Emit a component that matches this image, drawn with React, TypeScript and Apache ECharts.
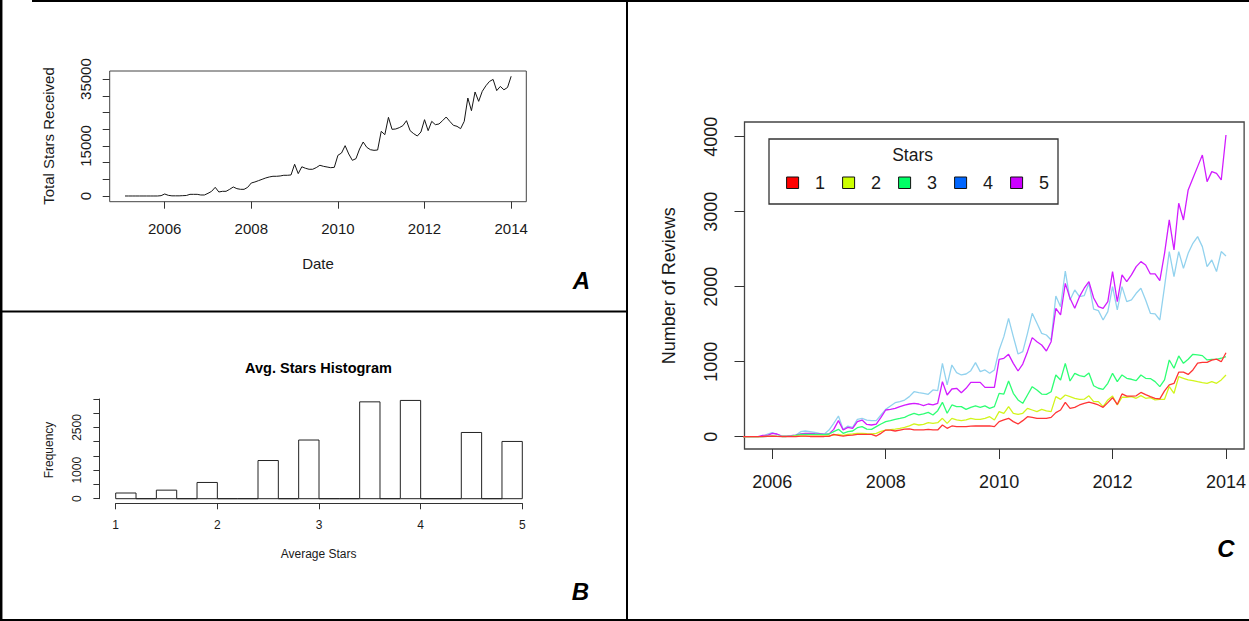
import React, { useEffect, useRef } from "react";
import * as echarts from "echarts";

const FONT = "'Liberation Sans', Arial, Helvetica, sans-serif";
const INK = "#1a1a1a";

// ---------- Panel A: total stars received (monthly) ----------
const TOTAL_START = [2005, 2]; // year, month of first value
const TOTAL_STARS = [
  0, 0, 0, 0, 0, 0, 0, 0, 0, 0, 100,
  600, 200, 50, 50, 50, 100, 150, 500, 500, 500, 300, 300,
  800, 1400, 2600, 1200, 1400, 1400, 2000, 2700, 2200, 2000, 2000, 2600,
  3900, 4200, 4600, 5000, 5400, 5700, 5900, 5900, 6000, 6200, 6200, 6300,
  9500, 6700, 8750, 8300, 8000, 8000, 8500, 9200, 8880, 8680, 8480, 8580,
  12180, 12870, 15070, 12580, 10680, 11180, 14070, 16170, 14570, 13870, 13670, 13770,
  19360, 18360, 23550, 19960, 20060, 20460, 21060, 22550, 19560, 18660, 17960, 19160,
  22850, 19560, 22350, 21360, 21560, 22550, 23650, 22350, 21160, 20860, 20160, 22350,
  29340, 25550, 31140, 28340, 31340, 33000, 34300, 34900, 31550, 32800, 31800, 32500,
  35850,
];
const A_YEAR_TICKS = [2006, 2008, 2010, 2012, 2014];
const A_Y_TICKS = [0, 5000, 10000, 15000, 20000, 25000, 30000, 35000];
const A_Y_LABELS = [0, 15000, 35000];

// ---------- Panel B: histogram of average stars ----------
const HIST_BREAKS = [1, 1.2, 1.4, 1.6, 1.8, 2, 2.2, 2.4, 2.6, 2.8, 3, 3.2, 3.4, 3.6, 3.8, 4, 4.2, 4.4, 4.6, 4.8, 5];
const HIST_COUNTS = [200, 0, 300, 0, 570, 0, 0, 1340, 0, 2060, 0, 0, 3400, 0, 3450, 0, 0, 2325, 0, 2010];
const B_Y_LABELS = [0, 1000, 2500];

// ---------- Panel C: number of reviews per star level (monthly) ----------
const REVIEW_START = [2005, 6];
const STARS_1 = [
  0, 0, 0, 0, 0, 0, 5,
  9, 5, 2, 2, 2, 2, 9, 9, 3, 3, 3, 3,
  5, 31, 18, 9, 18, 22, 31, 31, 31, 31, 9, 45,
  89, 89, 76, 89, 102, 105, 90, 90, 90, 99, 90, 90,
  156, 112, 143, 134, 134, 134, 140, 143, 143, 143, 143, 134,
  201, 223, 245, 201, 170, 214, 267, 258, 245, 245, 245, 258,
  321, 356, 458, 378, 392, 423, 445, 460, 445, 423, 392, 454,
  520, 430, 570, 540, 540, 545, 590, 560, 535, 512, 505, 610,
  690, 710, 860, 860, 830, 890, 980, 990, 990, 1020, 1035, 1000,
  1120,
];
const STARS_2 = [
  0, 0, 0, 0, 2, 3, 5,
  5, 5, 5, 5, 5, 9, 9, 9, 9, 9, 9, 9,
  13, 22, 31, 18, 31, 36, 45, 45, 40, 36, 45, 71,
  89, 94, 102, 111, 125, 145, 170, 156, 165, 187, 178, 187,
  245, 178, 245, 223, 214, 223, 245, 232, 232, 245, 267, 223,
  334, 312, 401, 312, 298, 312, 378, 356, 334, 365, 343, 334,
  534, 498, 556, 534, 512, 498, 500, 545, 468, 468, 401, 490,
  543, 423, 526, 526, 534, 512, 548, 512, 521, 490, 499, 499,
  668, 579, 801, 779, 757, 748, 734, 721, 712, 734, 712, 757,
  823,
];
const STARS_3 = [
  0, 0, 0, 0, 0, 2, 5,
  8, 5, 3, 3, 5, 18, 31, 31, 31, 31, 31, 27,
  36, 67, 98, 45, 67, 76, 120, 134, 102, 98, 134, 169,
  200, 214, 231, 244, 258, 289, 312, 290, 303, 325, 290, 347,
  458, 312, 423, 401, 401, 365, 392, 410, 392, 410, 378, 401,
  578, 569, 743, 578, 490, 445, 556, 667, 623, 569, 565, 600,
  823, 756, 978, 743, 845, 814, 800, 850, 680, 646, 632, 712,
  845, 734, 823, 779, 766, 748, 823, 779, 775, 734, 668, 757,
  1023, 912, 1077, 979, 1032, 1099, 1090, 1081, 1023, 1032, 1032, 1046,
  1068,
];
const STARS_4 = [
  0, 0, 0, 0, 0, 5, 36,
  54, 31, 9, 9, 13, 22, 67, 76, 67, 58, 45, 36,
  89, 178, 276, 98, 142, 125, 231, 244, 222, 214, 214, 289,
  364, 409, 453, 467, 489, 534, 600, 587, 578, 565, 623, 614,
  978, 690, 956, 854, 823, 836, 880, 987, 867, 890, 845, 890,
  1156, 1334, 1578, 1334, 1103, 1134, 1378, 1645, 1512, 1378, 1356, 1290,
  1876, 1734, 2209, 1823, 1956, 1867, 1880, 2045, 1700, 1681, 1556, 1668,
  2001, 1690, 2001, 1801, 1823, 1912, 1979, 1823, 1645, 1637, 1556, 2001,
  2468, 2134, 2468, 2245, 2445, 2579, 2668, 2534, 2268, 2356, 2201, 2468,
  2410,
];
const STARS_5 = [
  0, 0, 0, 0, 0, 18, 18,
  45, 36, 9, 9, 13, 22, 36, 45, 45, 40, 36, 31,
  36, 98, 214, 89, 125, 111, 200, 222, 164, 156, 169, 258,
  356, 364, 378, 400, 422, 436, 445, 436, 414, 436, 423, 445,
  734, 556, 636, 645, 587, 645, 725, 725, 725, 658, 658, 658,
  1032, 1045, 1098, 978, 876, 969, 1134, 1321, 1267, 1223, 1143, 1267,
  1712, 1623, 2045, 1845, 1712, 1867, 1980, 2068, 1850, 1734, 1712, 1801,
  2201, 1801, 2157, 2068, 2157, 2268, 2334, 2290, 2170, 2170, 2081, 2445,
  2890, 2490, 3112, 2890, 3290, 3445, 3601, 3756, 3401, 3534, 3512, 3423,
  4023,
];
const STAR_LEVELS = ["1", "2", "3", "4", "5"];
const STAR_SERIES = [STARS_1, STARS_2, STARS_3, STARS_4, STARS_5];
const LEGEND_COLORS = ["#FF0000", "#CCFF00", "#00FF66", "#0066FF", "#CC00FF"];
const LINE_COLORS = ["#FF3535", "#D2F51C", "#2EFF74", "#92D2EE", "#D21CFF"];
const DRAW_ORDER = [3, 4, 2, 1, 0];
const C_YEAR_TICKS = [2006, 2008, 2010, 2012, 2014];
const C_Y_TICKS = [0, 1000, 2000, 3000, 4000];

const monthly = (start: number[], values: number[]) =>
  values.map((v, i) => [start[0] + (start[1] - 1 + i) / 12, v]);

const plain = (v: number) => String(v);

function buildOption() {
  const txt = (
    text: string,
    x: number,
    y: number,
    fontSize: number,
    extra: any = {},
    rotation = 0
  ) => ({
    type: "text",
    x,
    y,
    rotation,
    silent: true,
    style: {
      text,
      fontSize,
      fontFamily: FONT,
      fill: INK,
      align: "center",
      verticalAlign: "middle",
      ...extra,
    },
  });
  const frame = (x1: number, y1: number, x2: number, y2: number, w = 2) => ({
    type: "line",
    silent: true,
    shape: { x1, y1, x2, y2 },
    style: { stroke: "#000", lineWidth: w },
  });

  const legendItems: any[] = [];
  STAR_LEVELS.forEach((lvl, i) => {
    legendItems.push({
      type: "rect",
      silent: true,
      shape: { x: 786.6 + i * 56, y: 177, width: 12, height: 11.5 },
      style: { fill: LEGEND_COLORS[i], stroke: "#111", lineWidth: 1 },
      z: 10,
    });
    legendItems.push({ ...txt(lvl, 820 + i * 56, 183.3, 18), z: 10 });
  });

  const graphic: any[] = [
    frame(1.2, 0, 1.2, 621, 2.5),
    frame(32, 1, 1249, 1, 2),
    frame(627, 0, 627, 621, 2),
    frame(0, 311.5, 627, 311.5, 2),
    frame(0, 620, 1249, 620, 2),
    txt("Total Stars Received", 48.8, 136, 15, {}, Math.PI / 2),
    txt("Date", 318, 263.3, 15),
    txt("A", 581.5, 280.5, 24, { fontWeight: "bold", fontStyle: "italic", fill: "#000" }),
    txt("Avg. Stars Histogram", 318.5, 368.3, 14.5, { fontWeight: "bold", fill: "#000" }),
    txt("Frequency", 49.4, 450, 12, {}, Math.PI / 2),
    txt("Average Stars", 318.6, 554, 12),
    txt("B", 580.3, 591, 24, { fontWeight: "bold", fontStyle: "italic", fill: "#000" }),
    txt("Number of Reviews", 669, 285.8, 18, {}, Math.PI / 2),
    txt("C", 1226, 548, 24, { fontWeight: "bold", fontStyle: "italic", fill: "#000" }),
    {
      type: "rect",
      silent: true,
      z: 9,
      shape: { x: 769, y: 139, width: 289, height: 65 },
      style: { fill: "#fff", stroke: "#333", lineWidth: 1.3 },
    },
    { ...txt("Stars", 912.6, 155, 17.5), z: 10 },
    ...legendItems,
  ];

  const axisText = (fontSize: number, margin: number, extra: any = {}) => ({
    fontSize,
    margin,
    color: INK,
    fontFamily: FONT,
    formatter: plain,
    ...extra,
  });
  const tick = (length: number, customValues?: number[]) => ({
    show: true,
    length,
    lineStyle: { color: "#333", width: 1 },
    ...(customValues ? { customValues } : {}),
  });

  const histData = HIST_COUNTS.map((c, i) => [HIST_BREAKS[i], HIST_BREAKS[i + 1], c]);

  return {
    animation: false,
    backgroundColor: "#fff",
    grid: [
      { left: 109.7, top: 71, width: 416.6, height: 130.7, show: true, borderColor: "#444", borderWidth: 1 },
      { left: 115.7, top: 399, width: 406.6, height: 99.7, show: false },
      { left: 744.5, top: 122, width: 501.5, height: 327, show: true, borderColor: "#444", borderWidth: 1.3 },
    ],
    xAxis: [
      {
        type: "value",
        gridIndex: 0,
        min: 2004.73,
        max: 2014.35,
        axisLine: { show: false, onZero: false },
        axisTick: tick(7, A_YEAR_TICKS),
        axisLabel: axisText(15, 19.5, { customValues: A_YEAR_TICKS }),
        splitLine: { show: false },
      },
      {
        type: "value",
        gridIndex: 1,
        min: 1,
        max: 5,
        interval: 1,
        offset: 4.6,
        axisLine: { show: true, onZero: false, lineStyle: { color: "#333", width: 1 } },
        axisTick: tick(6),
        axisLabel: axisText(12, 15.5),
        splitLine: { show: false },
      },
      {
        type: "value",
        gridIndex: 2,
        min: 2005.51,
        max: 2014.32,
        axisLine: { show: false, onZero: false },
        axisTick: tick(10, C_YEAR_TICKS),
        axisLabel: axisText(18, 23.5, { customValues: C_YEAR_TICKS }),
        splitLine: { show: false },
      },
    ],
    yAxis: [
      {
        type: "value",
        gridIndex: 0,
        min: -1707,
        max: 37425,
        axisLine: { show: false, onZero: false },
        axisTick: tick(7, A_Y_TICKS),
        axisLabel: axisText(15, 17, {
          customValues: A_Y_LABELS,
          rotate: 90,
          align: "center",
          verticalAlign: "bottom",
          lineHeight: 15,
        }),
        splitLine: { show: false },
      },
      {
        type: "value",
        gridIndex: 1,
        min: 0,
        max: 3500,
        interval: 500,
        offset: 16.3,
        axisLine: { show: true, onZero: false, lineStyle: { color: "#333", width: 1 } },
        axisTick: tick(6),
        axisLabel: axisText(12, 16, {
          customValues: B_Y_LABELS,
          rotate: 90,
          align: "center",
          verticalAlign: "bottom",
          lineHeight: 12,
        }),
        splitLine: { show: false },
      },
      {
        type: "value",
        gridIndex: 2,
        min: -164,
        max: 4196,
        axisLine: { show: false, onZero: false },
        axisTick: tick(10, C_Y_TICKS),
        axisLabel: axisText(18, 24.5, {
          customValues: C_Y_TICKS,
          rotate: 90,
          align: "center",
          verticalAlign: "bottom",
          lineHeight: 18,
        }),
        splitLine: { show: false },
      },
    ],
    series: [
      {
        type: "line",
        name: "Total Stars",
        xAxisIndex: 0,
        yAxisIndex: 0,
        data: monthly(TOTAL_START, TOTAL_STARS),
        showSymbol: false,
        symbol: "none",
        lineStyle: { color: "#151515", width: 1 },
        silent: true,
      },
      {
        type: "custom",
        name: "Histogram",
        xAxisIndex: 1,
        yAxisIndex: 1,
        data: histData,
        silent: true,
        renderItem: (_params: any, api: any) => {
          const p0 = api.coord([api.value(0), 0]);
          const p1 = api.coord([api.value(1), api.value(2)]);
          return {
            type: "rect",
            shape: { x: p0[0], y: p1[1], width: p1[0] - p0[0], height: p0[1] - p1[1] },
            style: { fill: "#fff", stroke: "#222", lineWidth: 1 },
          };
        },
      },
      ...DRAW_ORDER.map((k) => ({
        type: "line",
        name: STAR_LEVELS[k],
        xAxisIndex: 2,
        yAxisIndex: 2,
        data: monthly(REVIEW_START, STAR_SERIES[k]),
        showSymbol: false,
        symbol: "none",
        clip: true,
        lineStyle: { color: LINE_COLORS[k], width: 1.3 },
        silent: true,
      })),
    ],
    graphic,
  };
}

export default function App() {
  const ref = useRef<HTMLDivElement>(null);
  useEffect(() => {
    if (!ref.current) return;
    const chart = echarts.init(ref.current, null, { renderer: "svg" });
    chart.setOption(buildOption() as any);
    return () => chart.dispose();
  }, []);
  return (
    <div
      ref={ref}
      style={{ position: "fixed", left: 0, top: 0, width: 1249, height: 621, background: "#fff" }}
    />
  );
}
